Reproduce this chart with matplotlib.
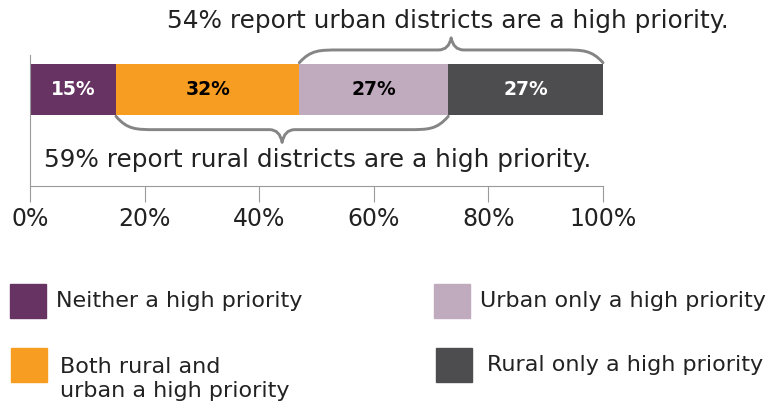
import matplotlib
matplotlib.use("Agg")
import matplotlib.pyplot as plt
from matplotlib.path import Path
from matplotlib.patches import PathPatch, Rectangle

# shares of respondents (%), left to right along the bar
categories = ["Neither a high priority", "Both rural and\nurban a high priority",
              "Urban only a high priority", "Rural only a high priority"]
shares = [15, 32, 26, 27]
share_labels = ["15%", "32%", "27%", "27%"]
colors = ["#663362", "#F79D21", "#C0AABD", "#4D4D4F"]
label_colors = ["white", "black", "black", "white"]

urban_text = "54% report urban districts are a high priority."
rural_text = "59% report rural districts are a high priority."
ticks = [0, 20, 40, 60, 80, 100]
tick_labels = ["0%", "20%", "40%", "60%", "80%", "100%"]

W, H = 768, 408
plt.rcParams["font.family"] = ["DejaVu Sans"]
fig = plt.figure(figsize=(W / 100, H / 100), dpi=100)


def fx(x):
    return x / W


def fy(y):
    return 1 - y / H


ax = fig.add_axes([fx(30), fy(186), fx(603) - fx(30), (186 - 55) / H])
ax.set_xlim(0, 100)
ax.set_ylim(-1.514, 0.541)

left = 0
for share, lab, col, lcol, cat in zip(shares, share_labels, colors, label_colors, categories):
    ax.barh(0, share, left=left, height=0.8, color=col, label=cat)
    ax.text(left + share / 2, 0, lab, ha="center", va="center", color=lcol,
            fontsize=13.5, fontweight="bold")
    left += share

for s in ["top", "right"]:
    ax.spines[s].set_visible(False)
ax.spines["left"].set_color("#9a9a9a")
ax.spines["bottom"].set_color("#9a9a9a")
ax.set_yticks([])
ax.set_xticks(ticks)
ax.set_xticklabels(tick_labels, fontsize=17, color="#222222")
ax.tick_params(axis="x", length=11.5, color="#9a9a9a", pad=3.5)


def brace(x0, x1, y_end, y_line, y_tip, w_end=7.0, w_tip=2.2):
    # curly brace: swooping ends, straight runs, pointed middle
    xm = (x0 + x1) / 2
    verts = [(x0, y_end),
             (x0 + 2.0, y_line), (x0 + 3.5, y_line), (x0 + w_end, y_line),
             (xm - w_tip, y_line),
             (xm - 0.4, y_line), (xm, y_tip),
             (xm + 0.4, y_line), (xm + w_tip, y_line),
             (x1 - w_end, y_line),
             (x1 - 3.5, y_line), (x1 - 2.0, y_line), (x1, y_end)]
    codes = [Path.MOVETO,
             Path.CURVE4, Path.CURVE4, Path.CURVE4,
             Path.LINETO,
             Path.CURVE3, Path.CURVE3,
             Path.CURVE3, Path.CURVE3,
             Path.LINETO,
             Path.CURVE4, Path.CURVE4, Path.CURVE4]
    p = PathPatch(Path(verts, codes), fill=False, edgecolor="#858585",
                  linewidth=2.1, clip_on=False, capstyle="round",
                  joinstyle="round")
    ax.add_patch(p)


# urban: both + urban only ; rural: both + rural only (as drawn on the bar)
start_both = shares[0]
end_both = shares[0] + shares[1]
end_urban = end_both + shares[2]
brace(end_both, 100, 0.42, 0.62, 0.81)
brace(start_both, end_urban, -0.42, -0.63, -0.83)

ax.text(73, 1.08, urban_text, ha="center", va="center", fontsize=17.8,
        color="#222222", clip_on=False)
ax.text(50.2, -1.11, rural_text, ha="center", va="center", fontsize=17.8,
        color="#222222", clip_on=False)

# legend drawn by hand: swatch box (px) and text anchor (px)
legend_boxes = [(10, 284), (11, 348), (434, 284), (436, 348)]
legend_text_pos = [(56, 301), (60, 379), (480, 301), (487, 365)]
for cat, col, (bx, by), (tx, ty) in zip(categories, colors, legend_boxes, legend_text_pos):
    fig.patches.append(Rectangle((fx(bx), fy(by + 34)), 36 / W, 34 / H,
                                 transform=fig.transFigure, color=col))
    fig.text(fx(tx), fy(ty), cat, ha="left", va="center", fontsize=16,
             color="#222222", linespacing=1.3)

fig.savefig("out.png", dpi=100)
